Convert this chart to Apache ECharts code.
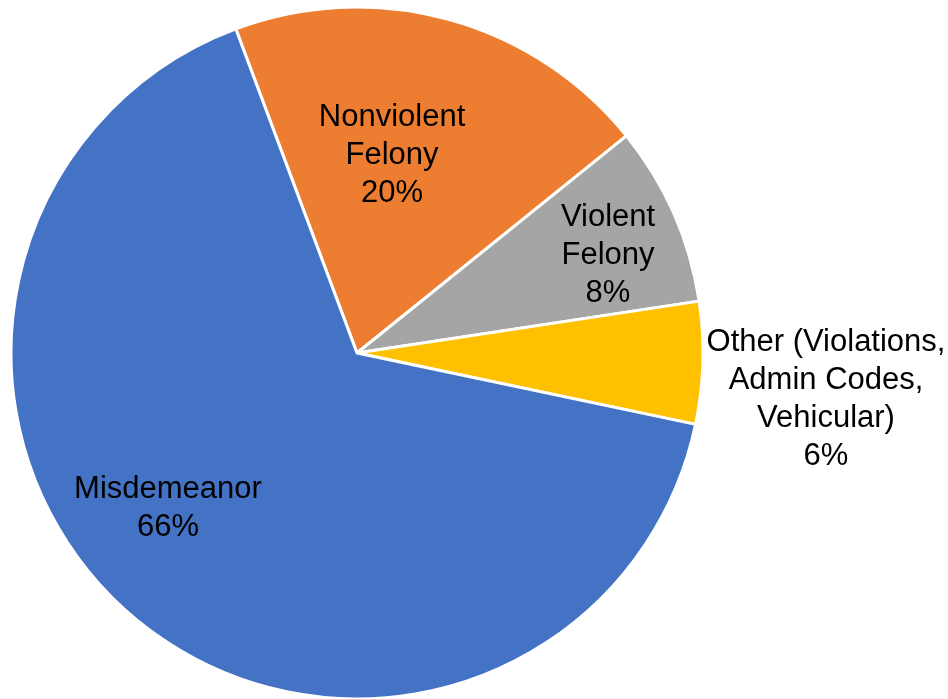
<!DOCTYPE html>
<html>
<head>
<meta charset="utf-8">
<script src="https://cdn.jsdelivr.net/npm/echarts@6/dist/echarts.min.js"></script>
<style>
  html, body { margin: 0; padding: 0; background: #fff; }
  #chart { width: 948px; height: 699px; }
</style>
</head>
<body>
<div id="chart"></div>
<script>
  // data, clockwise from the orange slice
  var categories = ["Nonviolent Felony", "Violent Felony", "Other (Violations, Admin Codes, Vehicular)", "Misdemeanor"];
  var labelText = ["Nonviolent\nFelony", "Violent\nFelony", "Other (Violations,\nAdmin Codes,\nVehicular)", "Misdemeanor"];
  var values = [19.9, 8.4, 5.7, 66.0];
  var colors = ["#ED7D31", "#A5A5A5", "#FFC000", "#4472C4"];

  // where each label sits (px)
  var labelPos = [[392, 155], [608, 255], [826, 399], [168, 508]];

  var chart = echarts.init(document.getElementById("chart"));

  var option = {
    animation: false,
    series: [
      {
        type: "pie",
        center: [357, 353],
        radius: 346,
        startAngle: 110.5,
        clockwise: true,
        data: categories.map(function (c, i) {
          return { name: c, value: values[i], itemStyle: { color: colors[i] } };
        }),
        itemStyle: {
          borderColor: "#fff",
          borderWidth: 3
        },
        label: {
          show: true,
          position: "inside",
          color: "#000",
          fontFamily: "Arial, 'Liberation Sans', sans-serif",
          fontSize: 31,
          lineHeight: 38,
          align: "center",
          formatter: function (p) {
            return labelText[p.dataIndex] + "\n" + Math.round(p.percent) + "%";
          }
        },
        labelLine: { show: false },
        labelLayout: function (p) {
          var pos = labelPos[p.dataIndex];
          return { x: pos[0], y: pos[1], align: "center", verticalAlign: "middle" };
        },
        emphasis: { disabled: true }
      }
    ]
  };

  chart.setOption(option);
  window.addEventListener("resize", function () {
    chart.resize();
  });
</script>
</body>
</html>
